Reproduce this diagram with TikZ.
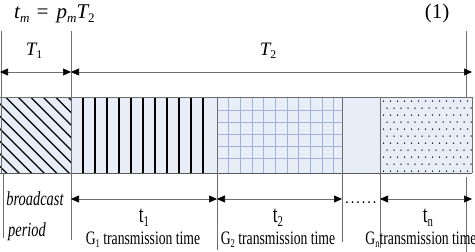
\documentclass[tikz,border=0pt]{standalone}
\usepackage{fontspec}
\setmainfont{Liberation Serif}
\newfontfamily\narrowf[FakeStretch=0.72]{Liberation Serif}
\usetikzlibrary{arrows.meta}
\definecolor{barbg}{RGB}{232,238,247}
\definecolor{gridc}{RGB}{160,178,216}
\definecolor{linec}{RGB}{110,110,110}
\newcommand\lsub[1]{\raisebox{-0.45ex}{\scalebox{0.62}{#1}}}
\begin{document}
\begin{tikzpicture}[x=1pt,y=-1pt,
  guide/.style={draw=linec, line width=0.6pt},
  dimline/.style={draw=linec, line width=0.6pt},
  tipboth/.style={{Triangle[length=8pt,width=7pt,black]}-{Triangle[length=8pt,width=7pt,black]}},
  lbl/.style={inner sep=0pt, anchor=base, font=\fontsize{19}{19}\selectfont\narrowf},
  tlbl/.style={inner sep=0pt, anchor=base, font=\fontsize{24}{24}\selectfont\narrowf},
  Tlbl/.style={inner sep=0pt, anchor=base, font=\fontsize{19}{19}\selectfont\itshape},
  ital/.style={inner sep=0pt, anchor=base, font=\fontsize{20}{20}\selectfont\narrowf\itshape},
  eqlbl/.style={inner sep=0pt, anchor=base, font=\fontsize{21}{21}\selectfont}
]
\useasboundingbox (0,0) rectangle (475,252);

% ---- bar background
\fill[barbg] (0,97) rectangle (472,173);
% hatched segment
\begin{scope}
\clip (0,97) rectangle (71,173);
\foreach \x in {-82,-69.5,...,71} \draw[line width=1.4pt] (\x,97) -- ({\x+80},177);
\end{scope}
% vertical striped segment
\foreach \x in {83,95,...,204} \draw[line width=1.3pt] (\x,97) -- (\x,173);
% grid segment
\foreach \x in {228.5,240.2,...,337} \draw[gridc, line width=0.8pt] (\x,97) -- (\x,173);
\foreach \y in {110,122.2,...,170} \draw[gridc, line width=0.8pt] (217,\y) -- (342,\y);
% dotted segment
\foreach \i in {0,...,10} {
  \pgfmathsetmacro{\yy}{101+\i*7}
  \pgfmathsetmacro{\off}{mod(\i,2)*3.5}
  \foreach \j in {0,...,12} {
    \fill ({383.5+\off+\j*7},\yy) circle (0.75pt);
  }
}
% outlines
\draw[linec, line width=0.7pt] (0,97) -- (472,97);
\draw[linec!80!black, line width=0.9pt] (0,173) -- (472,173);
\draw[linec, line width=0.7pt] (472,97) -- (472,173);
\foreach \x in {217,342,380} \draw[linec, line width=0.7pt] (\x,97) -- (\x,173);

% ---- guide lines
\coordinate (gL0) at (1,31);   \coordinate (gL1) at (1,173);
\coordinate (gA0) at (71,31);  \coordinate (gA1) at (71,240);
\coordinate (gR0) at (466,31); \coordinate (gR1) at (466,97);
\coordinate (gR2) at (466,177);\coordinate (gR3) at (466,252);
\coordinate (gB0) at (3,173);  \coordinate (gB1) at (3,238);
\coordinate (gC0) at (217,173);\coordinate (gC1) at (217,250);
\coordinate (gD0) at (342,173);\coordinate (gD1) at (342,242);
\coordinate (gE0) at (380,173);\coordinate (gE1) at (380,248);
\draw[guide] (gL0) -- (gL1);
\draw[guide] (gA0) -- (gA1);
\draw[guide] (gR0) -- (gR1);
\draw[guide] (gR2) -- (gR3);
\draw[guide] (gB0) -- (gB1);
\draw[guide] (gC0) -- (gC1);
\draw[guide] (gD0) -- (gD1);
\draw[guide] (gE0) -- (gE1);

% ---- top dimension arrows
\coordinate (a0) at (0,72);
\coordinate (a1) at (71,72);
\coordinate (a2) at (472,72);
\draw[dimline, tipboth] (a0) -- (a1);
\draw[dimline, tipboth] (a1) -- (a2);

% ---- bottom dimension arrows
\coordinate (b1) at (71,199);
\coordinate (b2) at (217,199);
\coordinate (b3) at (342,199);
\coordinate (b4) at (380,199);
\coordinate (b5) at (472,199);
\draw[dimline, tipboth] (b1) -- (b2);
\draw[dimline, tipboth] (b2) -- (b3);
\draw[dimline, tipboth] (b4) -- (b5);
\foreach \k in {0,...,5} \fill ({347+5.5*\k},202) circle (1pt);

% ---- labels
\node[eqlbl, anchor=base west] (eq) at (14,18) {\itshape t\lsub{m}\hspace{6pt}=\hspace{7pt}p\lsub{m}T\lsub{\upshape 2}};
\node[eqlbl] (eqn) at (437,18) {(1)};
\node[Tlbl] (T1) at (34,55) {T\lsub{\upshape 1}};
\node[Tlbl] (T2) at (268,55) {T\lsub{\upshape 2}};
\node[ital] (bc) at (35,205) {broadcast};
\node[ital] (pd) at (27,236) {period};
\node[tlbl] (t1) at (144,222) {t\lsub{1}};
\node[tlbl] (t2) at (278,222) {t\lsub{2}};
\node[tlbl] (tn) at (428,222) {t\lsub{n}};
\node[lbl] (g1) at (143,244) {G\lsub{1} transmission time};
\node[lbl] (g2) at (278,244) {G\lsub{2} transmission time};
\node[lbl] (gn) at (421,244) {G\lsub{n}transmission time};
\end{tikzpicture}
\end{document}
